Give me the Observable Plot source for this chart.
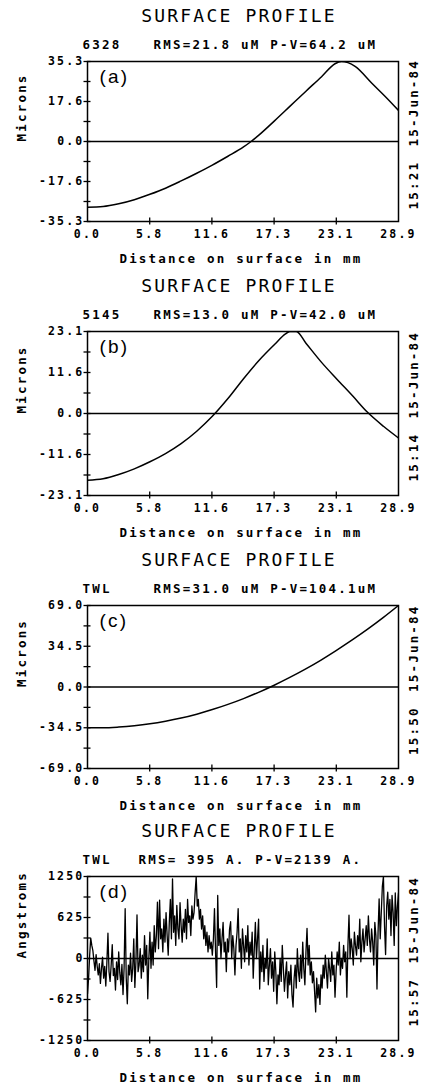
<!DOCTYPE html>
<html><head><meta charset="utf-8">
<script src="https://cdn.jsdelivr.net/npm/d3@7"></script>
<script src="https://cdn.jsdelivr.net/npm/@observablehq/plot@0.6"></script>
<style>
body{margin:0;background:#fff;}
#chart{position:relative;width:425px;height:1085px;overflow:hidden;background:#fff;}
.panel{position:absolute;left:0;}
svg text{letter-spacing:2.2px;}
g[aria-label="panel letter"] text{letter-spacing:0;}
g[aria-label="plot title"] text{letter-spacing:1.9px;}
g[aria-label="plot subtitle"] text{letter-spacing:3.1px;}
g[aria-label="axis title"] text{letter-spacing:3px;}
g[aria-label="stamp"] text{letter-spacing:2px;}
</style>
</head><body><div id="chart"></div>
<script>
// ---- data ----
const titles = ["SURFACE PROFILE","SURFACE PROFILE","SURFACE PROFILE","SURFACE PROFILE"];
const ids = ["6328","5145","TWL","TWL"];
const stats = ["RMS=21.8 uM P-V=64.2 uM","RMS=13.0 uM P-V=42.0 uM","RMS=31.0 uM P-V=104.1uM","RMS= 395 A. P-V=2139 A."];
const letters = ["(a)","(b)","(c)","(d)"];
const dates = ["15-Jun-84","15-Jun-84","15-Jun-84","15-Jun-84"];
const times = ["15:21","15:14","15:50","15:57"];
const yTitles = ["Microns","Microns","Microns","Angstroms"];
const xTitle = "Distance on surface in mm";
const xMax = 28.9;
const xTickLabels = ["0.0","5.8","11.6","17.3","23.1","28.9"];
const yMaxes = [35.3, 23.1, 69.0, 1250];
const yTickLabels = [
  ["35.3","17.6","0.0","-17.6","-35.3"],
  ["23.1","11.6","0.0","-11.6","-23.1"],
  ["69.0","34.5","0.0","-34.5","-69.0"],
  ["1250","625","0","-625","-1250"]
];

const aX = [0,1.45,2.9,4.35,5.8,7.25,8.7,10.15,11.6,13.05,14.5,15.2,15.95,17.4,18.85,20.3,21.75,23.0,23.6,24.2,24.9,26.4,27.8,28.9];
const aY = [-29.0,-28.7,-27.5,-25.7,-23.3,-20.6,-17.4,-14.0,-10.4,-6.5,-2.4,0,2.9,9.2,15.7,22.2,28.6,34.3,35.3,34.8,33.0,25.8,19.2,13.7];

const bX = [0,1.45,2.9,4.35,5.8,7.25,8.7,10.15,11.6,13.05,14.5,15.95,17.4,18.4,18.8,19.4,20.3,21.75,23.2,24.65,26.0,27.5,28.9];
const bY = [-18.8,-18.4,-17.2,-15.6,-13.6,-11.3,-8.5,-5.0,-0.8,4.2,9.8,15.0,19.5,22.4,23.1,23.1,19.8,14.4,9.6,4.9,0.4,-3.6,-6.9];

const cX = [0,1.45,2.9,4.35,5.8,7.25,8.7,10.15,11.6,13.05,14.5,15.95,17.3,18.8,20.2,21.7,23.1,24.6,26.0,27.5,28.9];
const cY = [-34.5,-34.5,-33.9,-32.8,-31.2,-29.0,-26.3,-23.0,-19.1,-14.7,-9.8,-4.3,1.3,8.1,14.9,22.8,30.8,39.8,48.7,58.9,69.0];

const dStep = 0.1;
const dY = [
 -540,-300,50,310,200,120,-40,-180,60,-120,
 -250,-80,-380,-150,20,-300,-120,-420,-60,385,
 -200,-350,-100,210,-260,-150,-480,-50,-320,100,
 -220,-400,-90,-550,-150,760,-300,-690,-100,-250,
 80,-350,-150,300,-440,-50,665,-200,-100,150,
 -300,50,-200,350,-100,200,-615,0,400,-150,
 250,-100,500,100,350,860,150,890,300,450,
 100,600,250,700,350,50,550,900,300,1215,
 400,650,200,810,450,300,850,500,250,600,
 400,750,300,900,550,650,350,800,600,700,
 1000,1250,800,900,600,750,450,650,300,500,
 200,400,100,350,150,250,50,300,760,100,
 -440,960,200,450,0,300,550,100,250,-200,
 300,100,450,560,0,350,150,-250,200,400,
 760,100,300,-150,450,200,-50,350,100,500,
 -100,250,50,400,-300,150,550,0,300,600,
 -465,100,-200,200,-350,0,-150,300,-400,-100,
 150,-300,-50,-500,100,-200,-690,-250,-400,0,
 -350,200,-150,-500,-250,-50,-600,-200,-400,-100,
 -550,-740,-300,-100,-450,150,-200,-350,50,-300,
 250,-150,-400,100,460,-100,200,-250,-50,-370,
 -200,-500,-815,-300,-600,-400,-700,-250,-450,-100,
 -300,50,-200,-450,0,-150,-350,100,-250,-100,
 -590,-200,100,-100,250,-250,0,-150,200,-50,
 100,-590,200,660,0,300,150,-100,400,200,
 50,350,150,600,-50,250,450,100,300,500,
 200,650,300,100,450,250,-100,550,350,-465,
 400,910,300,700,1100,1250,500,60,800,1010,
 600,900,350,960,700,200,1000,500,800,1000
];

const series = [
  aX.map((x, i) => ({x, y: aY[i]})),
  bX.map((x, i) => ({x, y: bY[i]})),
  cX.map((x, i) => ({x, y: cY[i]})),
  dY.map((y, i) => ({x: i * dStep, y}))
];

// ---- layout ----
const frameTops = [60.5, 331, 605, 875.5];
const frameHeights = [160, 164, 163, 164];
const statDx = [66, 66, 66, 51];
const mTop = 58, mBottom = 47, mLeft = 87, mRight = 27;
const mono = "DejaVu Sans Mono";

const chart = document.getElementById("chart");
const xPos = xTickLabels.map((_, j) => xMax * j / 5);
const xLabelMap = new Map(xPos.map((p, j) => [p, xTickLabels[j]]));

for (let i = 0; i < 4; i++) {
  const yMax = yMaxes[i];
  const yPos = [1, 0.5, 0, -0.5, -1].map(k => k * yMax);
  const yAll = [1, 0.75, 0.5, 0.25, 0, -0.25, -0.5, -0.75, -1].map(k => k * yMax);
  const yLabelMap = new Map(yPos.map((p, j) => [p, yTickLabels[i][j]]));
  const svg = Plot.plot({
    width: 425,
    height: mTop + frameHeights[i] + mBottom,
    marginTop: mTop, marginBottom: mBottom, marginLeft: mLeft, marginRight: mRight,
    style: {fontFamily: mono, fontSize: "11.5px", fontWeight: "bold", color: "#000", background: "#fff"},
    x: {domain: [0, xMax]},
    y: {domain: [-yMax, yMax]},
    marks: [
      Plot.ruleY([0], {stroke: "#000", strokeWidth: 1.3}),
      Plot.line(series[i], {x: "x", y: "y", stroke: "#000", strokeWidth: i === 3 ? 1.3 : 1.5, curve: i === 3 ? "linear" : "monotone-x", clip: true}),
      Plot.frame({stroke: "#000", strokeWidth: 1.5}),
      Plot.axisY(yAll, {tickSize: 7, dx: 3.5, fill: "none", label: null, stroke: "#000", strokeWidth: 1.3}),
      Plot.axisY(yPos, {tickSize: 0, tickPadding: 3, tickFormat: d => yLabelMap.get(d), label: null, fill: "#000"}),
      Plot.axisX(xPos.slice(1, -1), {tickSize: 7, dy: -3.5, fill: "none", label: null, stroke: "#000", strokeWidth: 1.3}),
      Plot.axisX(xPos, {tickSize: 0, tickPadding: 8, tickFormat: d => xLabelMap.get(d), label: null, fill: "#000"}),
      Plot.text([titles[i]], {text: d => d, frameAnchor: "top", dx: -4, dy: -45, lineAnchor: "middle", fontSize: 18, fontWeight: "normal", ariaLabel: "plot title"}),
      Plot.text([ids[i]], {text: d => d, frameAnchor: "top-left", dx: -5, dy: -16.5, textAnchor: "start", lineAnchor: "middle", fontSize: 12.5, ariaLabel: "plot subtitle"}),
      Plot.text([stats[i]], {text: d => d, frameAnchor: "top-left", dx: statDx[i], dy: -16.5, textAnchor: "start", lineAnchor: "middle", fontSize: 12.5, ariaLabel: "plot subtitle"}),
      Plot.text([letters[i]], {text: d => d, frameAnchor: "top-left", dx: 12, dy: 8, textAnchor: "start", lineAnchor: "top", fontFamily: "Liberation Sans", fontSize: 19, fontWeight: "normal", ariaLabel: "panel letter"}),
      Plot.text([yTitles[i]], {text: d => d, frameAnchor: "left", dx: -66, rotate: -90, lineAnchor: "middle", fontSize: 12.5, ariaLabel: "axis title"}),
      Plot.text([xTitle], {text: d => d, frameAnchor: "bottom", dx: -2, dy: 37.5, lineAnchor: "middle", fontSize: 12.5, ariaLabel: "axis title"}),
      Plot.text([dates[i]], {text: d => d, frameAnchor: "right", dx: 15, dy: 5, rotate: -90, textAnchor: "start", lineAnchor: "middle", fontSize: 12.5, ariaLabel: "stamp"}),
      Plot.text([times[i]], {text: d => d, frameAnchor: "right", dx: 15, dy: 68, rotate: -90, textAnchor: "start", lineAnchor: "middle", fontSize: 12.5, ariaLabel: "stamp"})
    ]
  });
  const wrap = document.createElement("div");
  wrap.className = "panel";
  wrap.style.top = (frameTops[i] - mTop) + "px";
  wrap.appendChild(svg);
  chart.appendChild(wrap);
}
</script>
</body></html>
